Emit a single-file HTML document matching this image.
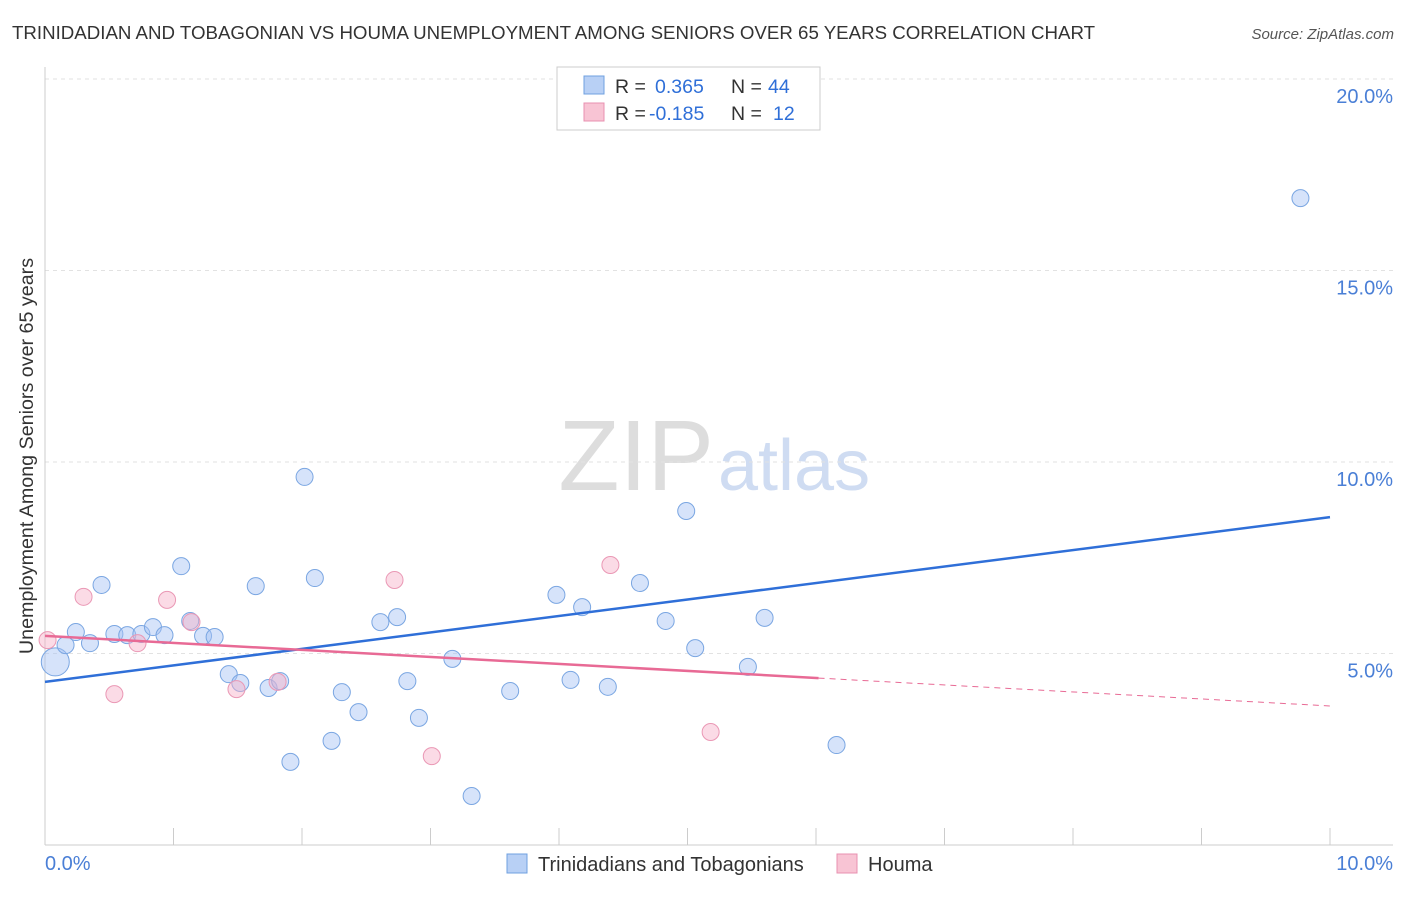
<!DOCTYPE html>
<html><head><meta charset="utf-8"><style>
body{margin:0;background:#fff;font-family:"Liberation Sans",sans-serif;}
svg text{font-family:"Liberation Sans",sans-serif;}
</style></head><body>
<svg id="chart" width="1406" height="892">
<text x="12" y="39" font-size="18.7" fill="#333">TRINIDADIAN AND TOBAGONIAN VS HOUMA UNEMPLOYMENT AMONG SENIORS OVER 65 YEARS CORRELATION CHART</text>
<text x="1394" y="39" font-size="15" fill="#555" font-style="italic" text-anchor="end">Source: ZipAtlas.com</text>
<text x="714" y="490" font-size="100" fill="#ddd" text-anchor="end" font-family="Liberation Serif">ZIP</text>
<text x="718" y="490" font-size="72" fill="#cfdcf2">atlas</text>
<text x="33" y="456" font-size="19.7" fill="#333" text-anchor="middle" transform="rotate(-90 33 456)">Unemployment Among Seniors over 65 years</text>
<g id="grid"></g><g id="marks"></g>
<g>
<rect x="557" y="67" width="263" height="63" fill="#fff" stroke="#ccc"/>
<rect x="584" y="76" width="20" height="18" fill="#b8d0f5" stroke="#6fa0e0"/>
<text x="615" y="93" font-size="19.5" fill="#333">R = </text><text x="655" y="93" font-size="19.5" fill="#2f6fd8">0.365</text>
<text x="731" y="93" font-size="19.5" fill="#333">N = </text><text x="768" y="93" font-size="19.5" fill="#2f6fd8">44</text>
<rect x="584" y="103" width="20" height="18" fill="#f8c4d4" stroke="#e890b0"/>
<text x="615" y="120" font-size="19.5" fill="#333">R = </text><text x="649" y="120" font-size="19.5" fill="#2f6fd8">-0.185</text>
<text x="731" y="120" font-size="19.5" fill="#333">N = </text><text x="773" y="120" font-size="19.5" fill="#2f6fd8">12</text>
</g>
<g>
<rect x="507" y="854" width="20" height="19" fill="#b8d0f5" stroke="#6fa0e0"/>
<text x="538" y="871" font-size="20" fill="#333">Trinidadians and Tobagonians</text>
<rect x="837" y="854" width="20" height="19" fill="#f8c4d4" stroke="#e890b0"/>
<text x="868" y="871" font-size="20" fill="#333">Houma</text>
</g>
</svg>
<script>
const blueX=[0.08,0.16,0.24,0.35,0.44,0.54,0.64,0.75,0.84,0.93,1.06,1.13,1.23,1.32,1.43,1.52,1.64,1.74,1.83,1.91,2.02,2.10,2.23,2.31,2.44,2.61,2.74,2.82,2.91,3.17,3.32,3.62,3.98,4.09,4.18,4.38,4.63,4.83,4.99,5.06,5.47,5.60,6.16,9.77];
const blueY=[4.78,5.22,5.56,5.27,6.79,5.51,5.48,5.51,5.69,5.48,7.28,5.85,5.46,5.43,4.46,4.23,6.76,4.10,4.28,2.17,9.61,6.97,2.72,3.99,3.47,5.82,5.95,4.28,3.32,4.86,1.28,4.02,6.53,4.31,6.21,4.13,6.84,5.85,8.72,5.14,4.65,5.93,2.61,16.89];
const pinkX=[0.02,0.30,0.54,0.72,0.95,1.14,1.49,1.81,2.72,3.01,4.40,5.18];
const pinkY=[5.35,6.48,3.94,5.27,6.40,5.82,4.07,4.26,6.92,2.32,7.31,2.95];
const blueTrend=[4.26,8.56];
const pinkTrend=[5.46,3.63];
const pinkSolidEnd=6.02;
const yTicks=[5,10,15,20];
const xTickLabels=["0.0%","10.0%"];
const NS="http://www.w3.org/2000/svg";
const sx=v=>45+v*128.5, sy=v=>845-v*38.3;
function mk(t,a,p){const e=document.createElementNS(NS,t);for(const k in a)e.setAttribute(k,a[k]);p.appendChild(e);return e;}
const grid=document.getElementById('grid'),marks=document.getElementById('marks');
yTicks.forEach(t=>{
 const l=mk('line',{x1:45,x2:1393,y1:sy(t),y2:sy(t),stroke:'#e2e2e2','stroke-dasharray':'4,4'},grid);
 
 
 const tx=mk('text',{x:1393,y:sy(t)+24,'font-size':20,fill:'#4a7fd6','text-anchor':'end'},grid);tx.textContent=t.toFixed(1)+'%';
 
 
});
mk('line',{x1:45,x2:45,y1:67,y2:845,stroke:'#ccc'},grid);
mk('line',{x1:45,x2:1393,y1:845,y2:845,stroke:'#ccc'},grid);
for(let i=0;i<=10;i++){const t=mk('line',{x1:sx(i),x2:sx(i),y1:828,y2:845,stroke:'#ccc'},grid);
 
 }
xTickLabels.forEach((s,i)=>{const tx=mk('text',{x:i?1393:45,y:870,'font-size':20,fill:'#4a7fd6','text-anchor':i?'end':'start'},grid);tx.textContent=s;
 
 });
blueX.forEach((x,i)=>{const c=mk('circle',{cx:sx(x),cy:sy(blueY[i]),r:i===0?14:8.5,fill:'rgba(164,194,244,0.45)',stroke:'#7aa6e2','stroke-width':1},marks);
 
 });
pinkX.forEach((x,i)=>{const c=mk('circle',{cx:sx(x),cy:sy(pinkY[i]),r:8.5,fill:'rgba(246,176,200,0.45)',stroke:'#ea98b5','stroke-width':1},marks);
 
 });
const bl=mk('line',{x1:sx(0),y1:sy(blueTrend[0]),x2:sx(10),y2:sy(blueTrend[1]),stroke:'#2f6fd8','stroke-width':2.5},marks);


const pAt=x=>pinkTrend[0]+(pinkTrend[1]-pinkTrend[0])*x/10;
const pl=mk('line',{x1:sx(0),y1:sy(pAt(0)),x2:sx(pinkSolidEnd),y2:sy(pAt(pinkSolidEnd)),stroke:'#e86a95','stroke-width':2.5},marks);


const pd=mk('line',{x1:sx(pinkSolidEnd),y1:sy(pAt(pinkSolidEnd)),x2:sx(10),y2:sy(pAt(10)),stroke:'#e86a95','stroke-width':1,'stroke-dasharray':'6,5'},marks);


</script>
</body></html>
